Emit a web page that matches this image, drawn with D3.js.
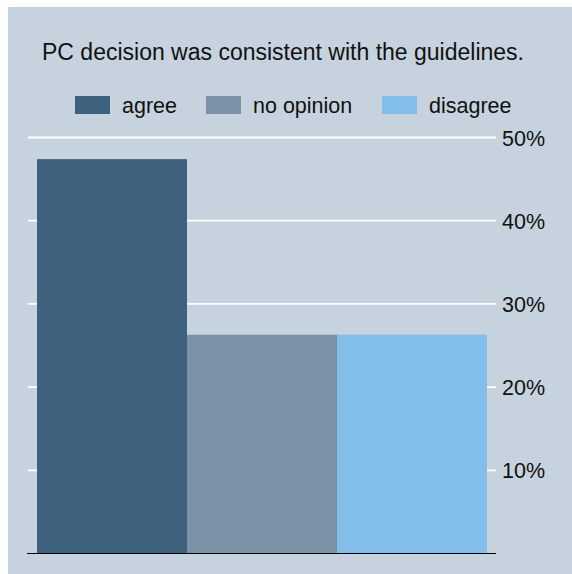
<!DOCTYPE html>
<html><head><meta charset="utf-8">
<script src="https://cdn.jsdelivr.net/npm/d3@7/dist/d3.min.js"></script>
<style>
html,body{margin:0;padding:0;background:#ffffff;}
svg{display:block;font-family:"Liberation Sans",Arial,sans-serif;}
</style></head>
<body>
<svg id="chart" width="572" height="574"></svg>
<script>
const title = "PC decision was consistent with the guidelines.";
const categories = ["agree", "no opinion", "disagree"];
const values = [0.474, 0.263, 0.263];
const colors = ["#3e627e", "#7b91a8", "#82bee9"];
const tickValues = [0.1, 0.2, 0.3, 0.4, 0.5];
const tickLabels = ["10%", "20%", "30%", "40%", "50%"];

const W = 572, H = 574;
const svg = d3.select("#chart");
svg.append("rect").attr("x", 8).attr("y", 7).attr("width", W - 8).attr("height", H - 7).attr("fill", "#c6d3df");

const x = d3.scaleBand().domain(categories).range([37, 487]).padding(0);
const y = d3.scaleLinear().domain([0, 0.5]).range([553.5, 137.5]);
const color = d3.scaleOrdinal().domain(categories).range(colors);

// grid + right axis labels
const axis = d3.axisRight(y).tickValues(tickValues).tickFormat((d, i) => tickLabels[i]).tickSize(0).tickPadding(0);
const gAxis = svg.append("g").attr("transform", "translate(502,0)").call(axis);
gAxis.select(".domain").remove();
gAxis.selectAll("text").attr("font-size", 21.5).attr("fill", "#111").attr("font-family", "Liberation Sans, Arial, sans-serif").attr("dy", "0.35em").attr("x", 0);
svg.append("g").selectAll("line").data(tickValues).join("line")
  .attr("x1", 28).attr("x2", 496).attr("y1", d => y(d)).attr("y2", d => y(d))
  .attr("stroke", "#ffffff").attr("stroke-width", 1.8);

// bars
svg.append("g").selectAll("rect").data(categories).join("rect")
  .attr("x", d => x(d)).attr("width", x.bandwidth())
  .attr("y", (d, i) => y(values[i])).attr("height", (d, i) => y(0) - y(values[i]))
  .attr("fill", d => color(d));

// baseline
svg.append("line").attr("x1", 27).attr("x2", 496).attr("y1", y(0)).attr("y2", y(0)).attr("stroke", "#000").attr("stroke-width", 1);

// title
svg.append("text").attr("x", 283).attr("y", 60).attr("text-anchor", "middle")
  .attr("font-size", 23).attr("fill", "#111").text(title);

// legend
const legendX = [75, 206, 382];
const lg = svg.append("g").selectAll("g").data(categories).join("g")
  .attr("transform", (d, i) => `translate(${legendX[i]},0)`);
lg.append("rect").attr("x", 0).attr("y", 96).attr("width", 35).attr("height", 18).attr("fill", d => color(d));
lg.append("text").attr("x", 47).attr("y", 113).attr("font-size", 21.5).attr("fill", "#111").text(d => d);
</script>
</body></html>
